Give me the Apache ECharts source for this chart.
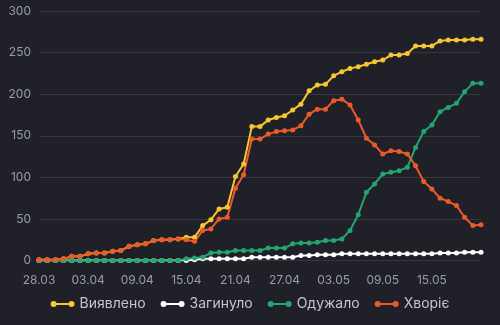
<!DOCTYPE html>
<html><head><meta charset="utf-8">
<script src="https://cdn.jsdelivr.net/npm/echarts@6/dist/echarts.min.js"></script>
<style>html,body{margin:0;padding:0;background:#202128;}#c{width:500px;height:325px;}</style>
</head><body><div id="c"></div>
<script>
const dates = ["28.03","29.03","30.03","31.03","01.04","02.04","03.04","04.04","05.04","06.04","07.04","08.04","09.04","10.04","11.04","12.04","13.04","14.04","15.04","16.04","17.04","18.04","19.04","20.04","21.04","22.04","23.04","24.04","25.04","26.04","27.04","28.04","29.04","30.04","01.05","02.05","03.05","04.05","05.05","06.05","07.05","08.05","09.05","10.05","11.05","12.05","13.05","14.05","15.05","16.05","17.05","18.05","19.05","20.05","21.05"];
const detected = [1,1,1,2,5,5,8,9,9,11,12,17,19,20,24,25,25,26,28,28,42,49,62,64,101,116,161,161,169,172,174,181,188,204,211,212,222,227,231,233,236,239,241,247,247,249,258,258,258,264,265,265,265,266,266];
const died = [0,0,0,0,0,0,0,0,0,0,0,0,0,0,0,0,0,0,0,1,2,2,2,2,2,2,4,4,4,4,4,4,6,6,7,7,7,8,8,8,8,8,8,8,8,8,8,8,8,9,9,9,10,10,10];
const recovered = [0,0,0,0,0,0,0,0,0,0,0,0,0,0,0,0,0,0,2,3,4,9,10,10,12,12,12,12,15,15,15,20,21,21,22,24,24,26,36,55,82,92,104,106,108,112,136,155,163,179,184,189,203,213,213];
const sick = [1,1,1,2,5,5,8,9,9,11,12,17,19,20,24,25,25,26,25,23,36,38,50,52,87,103,146,146,152,155,156,157,162,176,182,182,192,194,187,169,147,139,128,132,131,128,114,95,86,75,71,66,52,42,43];
const names = ["Виявлено","Загинуло","Одужало","Хворіє"];
const colors = ["#f8c630","#ffffff","#23a56f","#ea5a2b"];
const values = [detected, died, recovered, sick];

const icon = 'path://M0,3 A3,3 0 1,1 6,3 A3,3 0 1,1 0,3 Z M18,3 A3,3 0 1,1 24,3 A3,3 0 1,1 18,3 Z M3,2 L21,2 L21,4 L3,4 Z';
const chart = echarts.init(document.getElementById('c'));
chart.setOption({
  backgroundColor: '#202128',
  animation: false,
  textStyle: {fontFamily: 'Inter'},
  grid: {left: 39, right: 19, top: 11, bottom: 64.5},
  legend: {
    bottom: 9, left: 'center', itemWidth: 24, itemHeight: 6, itemGap: 15,
    icon: icon,
    textStyle: {color: '#c3c5cb', fontSize: 14, fontFamily: 'Inter'},
    data: names
  },
  xAxis: {
    type: 'category', data: dates, boundaryGap: false,
    axisLine: {show: false}, axisTick: {show: false},
    axisLabel: {color: '#9a9ca4', fontSize: 12, margin: 14,
      interval: function(i){ return i % 6 === 0 && i < 54; }},
    splitLine: {show: false}
  },
  yAxis: {
    type: 'value', min: 0, max: 300, interval: 50,
    axisLine: {show: false}, axisTick: {show: false},
    axisLabel: {color: '#9a9ca4', fontSize: 12, margin: 8},
    splitLine: {lineStyle: {color: '#35373e', width: 1}}
  },
  series: values.map((v, k) => ({
    name: names[k], type: 'line', data: v,
    symbol: 'circle', symbolSize: 5, showSymbol: true,
    lineStyle: {width: 2, color: colors[k]},
    itemStyle: {color: colors[k]}
  }))
});
</script></body></html>
